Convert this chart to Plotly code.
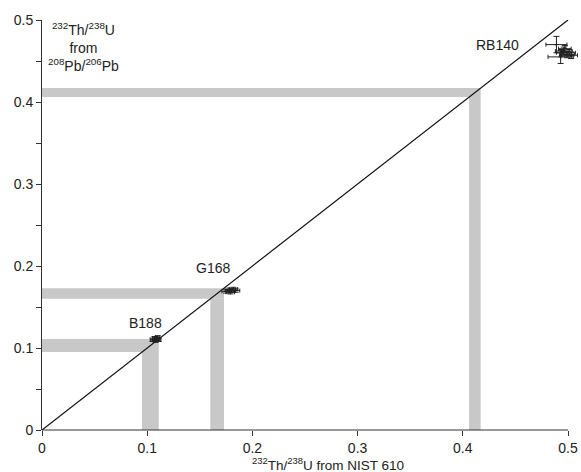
import plotly.graph_objects as go

# Reference bands (lower / upper) for each standard
band_lo = [0.095, 0.160, 0.406]
band_hi = [0.111, 0.173, 0.417]

# Measured data clusters
b188_x = [0.105, 0.107, 0.109, 0.110, 0.111, 0.108]
b188_y = [0.110, 0.112, 0.111, 0.113, 0.110, 0.109]
b188_ex = [0.002, 0.002, 0.002, 0.002, 0.002, 0.002]
b188_ey = [0.002, 0.002, 0.002, 0.002, 0.002, 0.002]

g168_x = [0.175, 0.178, 0.180, 0.182, 0.184, 0.179]
g168_y = [0.169, 0.171, 0.170, 0.172, 0.170, 0.168]
g168_ex = [0.004, 0.004, 0.004, 0.004, 0.004, 0.004]
g168_ey = [0.002, 0.002, 0.002, 0.002, 0.002, 0.002]

rb140_x = [0.489, 0.493, 0.496, 0.499, 0.501, 0.497, 0.503, 0.494]
rb140_y = [0.470, 0.455, 0.462, 0.458, 0.460, 0.465, 0.457, 0.460]
rb140_ex = [0.010, 0.012, 0.008, 0.007, 0.006, 0.006, 0.006, 0.005]
rb140_ey = [0.010, 0.008, 0.005, 0.004, 0.004, 0.004, 0.004, 0.004]

line_x = [0, 0.5]
line_y = [0, 0.5]

labels = ["B188", "G168", "RB140"]
label_x = [0.098, 0.163, 0.433]
label_y = [0.130, 0.198, 0.470]

x_ticks = [0, 0.1, 0.2, 0.3, 0.4, 0.5]
x_ticktext = ["0", "0.1", "0.2", "0.3", "0.4", "0.5"]
y_ticks = [0, 0.05, 0.1, 0.15, 0.2, 0.25, 0.3, 0.35, 0.4, 0.45, 0.5]
y_ticktext = ["0", "", "0.1", "", "0.2", "", "0.3", "", "0.4", "", "0.5"]

band_color = "#c8c8c8"
fig = go.Figure()

shapes = []
for lo, hi in zip(band_lo, band_hi):
    shapes.append(dict(type="rect", xref="x", yref="y", x0=0, x1=hi, y0=lo, y1=hi,
                       fillcolor=band_color, line=dict(width=0), layer="below"))
    shapes.append(dict(type="rect", xref="x", yref="y", x0=lo, x1=hi, y0=0, y1=lo,
                       fillcolor=band_color, line=dict(width=0), layer="below"))
# x axis line drawn only up to 0.5
shapes.append(dict(type="line", xref="x", yref="paper", x0=0, x1=0.5, y0=0, y1=0,
                   line=dict(color="#333333", width=1)))

fig.add_trace(go.Scatter(x=line_x, y=line_y, mode="lines",
                         line=dict(color="#111111", width=1.2), hoverinfo="skip"))

for xs, ys, exs, eys in [(b188_x, b188_y, b188_ex, b188_ey),
                         (g168_x, g168_y, g168_ex, g168_ey),
                         (rb140_x, rb140_y, rb140_ex, rb140_ey)]:
    fig.add_trace(go.Scatter(
        x=xs, y=ys, mode="markers",
        marker=dict(size=3, color="#222222", symbol="cross-thin",
                    line=dict(color="#222222", width=1)),
        error_x=dict(type="data", array=exs, color="#222222", thickness=1, width=2),
        error_y=dict(type="data", array=eys, color="#222222", thickness=1, width=3),
        cliponaxis=False,
    ))

annotations = []
for t, x, y in zip(labels, label_x, label_y):
    annotations.append(dict(x=x, y=y, xref="x", yref="y", text=t, showarrow=False,
                            font=dict(size=14, color="#222222")))
annotations.append(dict(x=0.077, y=0.933, xref="paper", yref="paper",
                        xanchor="center", yanchor="middle",
                        text="<sup>232</sup>Th/<sup>238</sup>U<br>from<br><sup>208</sup>Pb/<sup>206</sup>Pb",
                        showarrow=False, align="center", font=dict(size=14, color="#222222")))
annotations.append(dict(x=(328 - 42) / 536, y=-0.084, xref="paper", yref="paper",
                        xanchor="center", yanchor="middle",
                        text="<sup>232</sup>Th/<sup>238</sup>U from NIST 610",
                        showarrow=False,
                        font=dict(size=13.5, color="#222222")))

fig.update_layout(
    width=581, height=472,
    margin=dict(l=42, r=3, t=20, b=42),
    plot_bgcolor="white", paper_bgcolor="white",
    showlegend=False,
    shapes=shapes,
    annotations=annotations,
    font=dict(family="Liberation Sans, Arial, sans-serif", size=14, color="#222222"),
    xaxis=dict(range=[0, 0.5095], tickvals=x_ticks, ticktext=x_ticktext,
               ticks="outside", ticklen=5, tickcolor="#333333", showgrid=False,
               zeroline=False, showline=False, tickfont=dict(size=14)),
    yaxis=dict(range=[0, 0.5], tickvals=y_ticks, ticktext=y_ticktext,
               ticks="outside", ticklen=5, tickcolor="#333333", showgrid=False,
               zeroline=False, showline=True, linecolor="#333333", linewidth=1,
               tickfont=dict(size=14)),
)

fig.write_html("out.html")
